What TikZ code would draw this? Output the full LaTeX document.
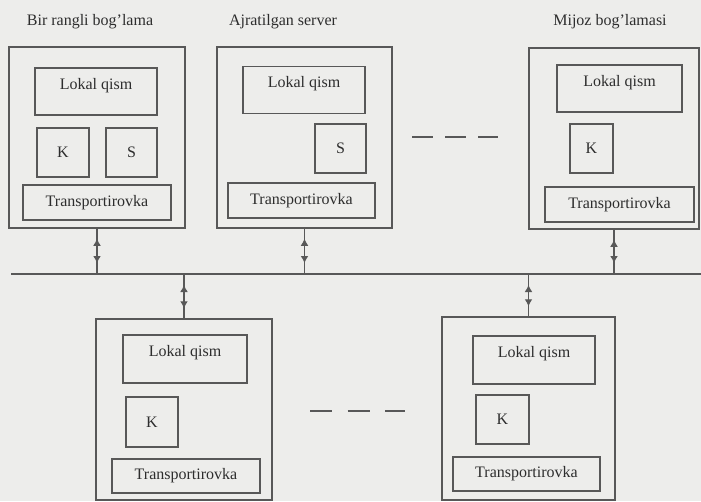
\documentclass[tikz,border=0pt]{standalone}
\usepackage{fontspec}
\setmainfont{Liberation Serif}
\usepackage{xcolor}
\usepackage{tikz}
\usetikzlibrary{positioning,arrows.meta,decorations.markings}
\definecolor{paper}{RGB}{237,237,235}
\definecolor{linegray}{RGB}{88,88,88}
\definecolor{inkgray}{RGB}{45,45,45}
\tikzset{
  station/.style={draw=linegray, line width=1.5pt, inner sep=0pt},
  part/.style={draw=linegray, line width=1.3pt, inner sep=0pt, text=inkgray, font=\fontsize{16}{18}\selectfont},
  lokal/.style={part, minimum height=47pt, text height=21pt, text depth=26pt},
  title/.style={text=inkgray, font=\fontsize{16}{18}\selectfont},
  link/.style={draw, color=linegray, line width=1.6pt, postaction={decorate},
    decoration={markings,
      mark=at position 10pt with {\arrowreversed{Latex[length=7pt,width=8pt]}},
      mark=at position -11pt with {\arrow{Latex[length=7pt,width=8pt]}}}},
  gap/.style={draw=linegray, line width=1.5pt}
}
\begin{document}
\begin{tikzpicture}[x=1pt,y=-1pt]
        \useasboundingbox (0,0) rectangle (701,501);
        \fill[paper] (0,0) rectangle (701,501);
        % Titles
        \node[title] (peertitle) at (90,22) {Bir rangli bog'lama};
        \node[title] (servertitle) at (283,22) {Ajratilgan server};
        \node[title] (clienttitle) at (610,22) {Mijoz bog'lamasi};
        % Peer station
        \node[station, minimum width=176pt, minimum height=181pt] (peer) at (97,137.5) {};
        \node[lokal, minimum width=122pt] (peerlocal) at (96,91.5) {Lokal qism};
        \node[part, minimum width=52pt, minimum height=49pt] (peerk) at (63,152.5) {K};
        \node[part, minimum width=51pt, minimum height=49pt] (peers) at (131.5,152.5) {S};
        \node[part, minimum width=148pt, minimum height=35pt] (peertrans) at (97,202.5) {Transportirovka};
        % Dedicated server
        \node[station, minimum width=175pt, minimum height=181pt] (server) at (304.5,137.5) {};
        \node[lokal, minimum width=122pt] (serverlocal) at (304,90) {Lokal qism};
        \node[part, minimum width=51pt, minimum height=49pt] (servers) at (340.5,148.5) {S};
        \node[part, minimum width=147pt, minimum height=35pt] (servertrans) at (301.5,200.5) {Transportirovka};
        % Client station
        \node[station, minimum width=170pt, minimum height=181pt] (client) at (614,138.5) {};
        \node[lokal, minimum width=125pt] (clientlocal) at (619.5,88.5) {Lokal qism};
        \node[part, minimum width=43pt, minimum height=49pt] (clientk) at (591.5,148.5) {K};
        \node[part, minimum width=149pt, minimum height=35pt] (clienttrans) at (619.5,204.5) {Transportirovka};
        % Lower clients
        \node[station, minimum width=176pt, minimum height=181pt] (lowa) at (184,409.5) {};
        \node[lokal, minimum width=124pt, minimum height=48pt] (lowalocal) at (185,359) {Lokal qism};
        \node[part, minimum width=52pt, minimum height=50pt] (lowak) at (152,422) {K};
        \node[part, minimum width=148pt, minimum height=34pt] (lowatrans) at (186,476) {Transportirovka};
        \node[station, minimum width=173pt, minimum height=183pt] (lowb) at (528.5,408.5) {};
        \node[lokal, minimum width=122pt, minimum height=48pt] (lowblocal) at (534,360) {Lokal qism};
        \node[part, minimum width=53pt, minimum height=49pt] (lowbk) at (502.5,419.5) {K};
        \node[part, minimum width=147pt, minimum height=34pt] (lowbtrans) at (526.5,474) {Transportirovka};
        % Bus
        \coordinate (busL) at (11,274);
        \coordinate (busR) at (701,274);
        \draw[linegray, line width=1.5pt] (busL) -- (busR);
        \draw[link] (peer.south) -- (peer.south |- busL);
        \draw[link] (server.south) -- (server.south |- busL);
        \draw[link] (client.south) -- (client.south |- busL);
        \draw[link] (lowa.north) -- (lowa.north |- busL);
        \draw[link] (lowb.north) -- (lowb.north |- busL);
        % Dashes
        \draw[gap, dash pattern=on 21pt off 12pt] (412,137) -- (498,137);
        \draw[gap, dash pattern=on 22pt off 15.5pt] (310,411) -- (405,411);
    \end{tikzpicture}
\end{document}
